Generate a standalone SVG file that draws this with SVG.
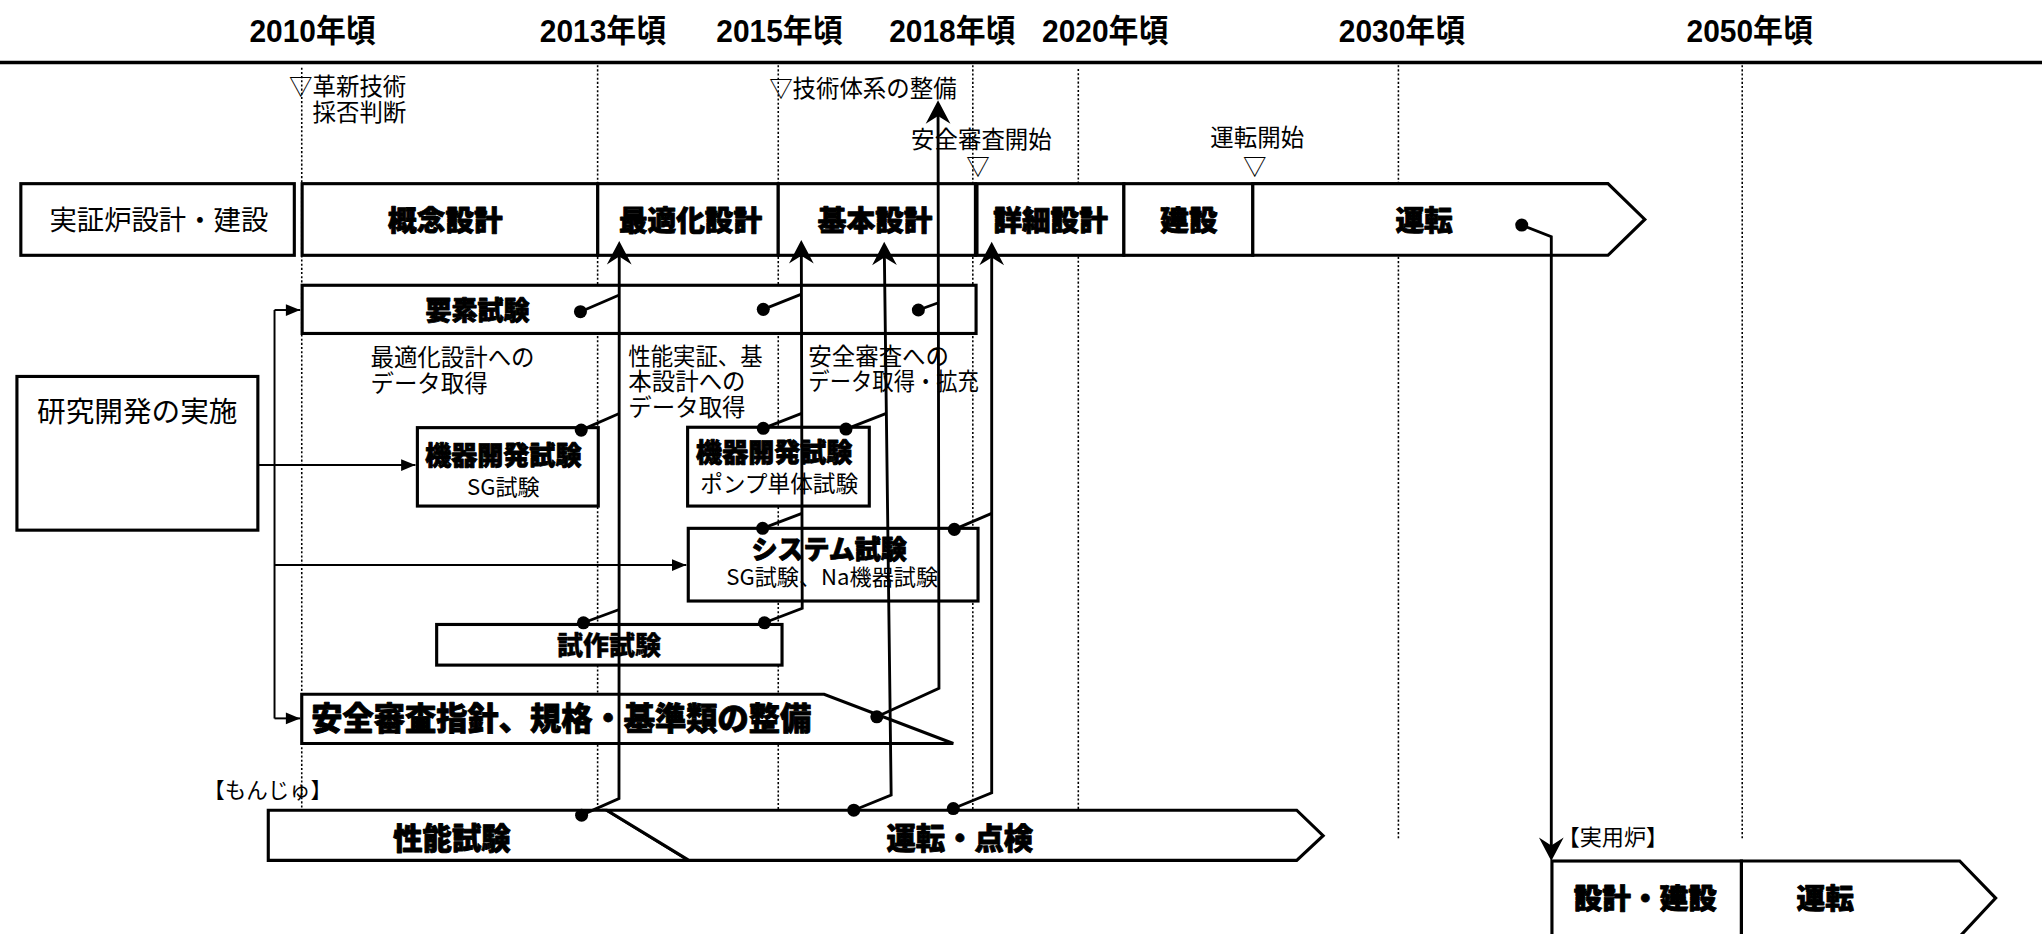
<svg xmlns="http://www.w3.org/2000/svg" width="2042" height="934" viewBox="0 0 2042 934">
<style>
.yr{font-family:"Liberation Sans","Noto Sans CJK JP",sans-serif;font-weight:bold;font-size:24px;text-anchor:middle}
.lbl{font-family:"Noto Sans CJK JP",sans-serif;font-weight:900;text-anchor:middle;stroke:#000;stroke-width:0.7px;stroke-linejoin:round}
.sub{font-weight:400;stroke:none}
.txt{font-family:"Noto Sans CJK JP",sans-serif;font-weight:400;font-size:18px}
.box{fill:#fff;stroke:#000;stroke-width:2.4}
.dot{stroke:#000;stroke-width:1.2;stroke-dasharray:1.6 1.6;fill:none}
.con{fill:none;stroke:#000;stroke-width:2.2;stroke-linejoin:miter}
.rd{fill:none;stroke:#000;stroke-width:1.5}
</style>
<defs>
<marker id="arr" markerUnits="userSpaceOnUse" markerWidth="20" markerHeight="20" refX="14" refY="10" orient="auto" overflow="visible">
<path d="M18,10 L0,0.5 L6,10 L0,19.5 Z" fill="#000"/>
</marker>
<marker id="arrs" markerUnits="userSpaceOnUse" markerWidth="12" markerHeight="10" refX="11" refY="4.5" orient="auto" overflow="visible">
<path d="M0,0 L11,4.5 L0,9 Z" fill="#000"/>
</marker>
</defs>
<rect x="0" y="0" width="2042" height="934" fill="#fff"/>
<g transform="scale(1.3023,1.3026)">
<g id="timeline">
<text class="yr" x="240" y="32" textLength="97" lengthAdjust="spacingAndGlyphs">2010年頃</text>
<text class="yr" x="463" y="32" textLength="97" lengthAdjust="spacingAndGlyphs">2013年頃</text>
<text class="yr" x="598.5" y="32" textLength="97" lengthAdjust="spacingAndGlyphs">2015年頃</text>
<text class="yr" x="731.3" y="32" textLength="97" lengthAdjust="spacingAndGlyphs">2018年頃</text>
<text class="yr" x="848.7" y="32" textLength="97" lengthAdjust="spacingAndGlyphs">2020年頃</text>
<text class="yr" x="1076.5" y="32" textLength="97" lengthAdjust="spacingAndGlyphs">2030年頃</text>
<text class="yr" x="1343.6" y="32" textLength="97" lengthAdjust="spacingAndGlyphs">2050年頃</text>
<line x1="0" y1="48" x2="1568" y2="48" stroke="#000" stroke-width="2.6"/>
<line class="dot" x1="231.7" y1="52" x2="231.7" y2="621"/>
<line class="dot" x1="458.9" y1="50" x2="458.9" y2="621"/>
<line class="dot" x1="597.6" y1="50" x2="597.6" y2="621"/>
<line class="dot" x1="747" y1="50" x2="747" y2="621"/>
<line class="dot" x1="828" y1="53" x2="828" y2="621"/>
<line class="dot" x1="1073.8" y1="50" x2="1073.8" y2="644"/>
<line class="dot" x1="1337.8" y1="50" x2="1337.8" y2="645"/>
</g>
<g id="milestones">
<text class="txt" x="222" y="73">▽革新技術<tspan x="240" y="93">採否判断</tspan></text>
<text class="txt" x="590.6" y="74.5">▽技術体系の整備</text>
<text class="txt" x="699.6" y="114">安全審査開始<tspan x="742" y="134.5">▽</tspan></text>
<text class="txt" x="929.4" y="112">運転開始<tspan x="954.5" y="134.5">▽</tspan></text>
</g>
<g id="demo-label"><rect class="box" x="16" y="141" width="210" height="55" stroke-width="2.2"/><text class="txt" x="122" y="176.5" text-anchor="middle" style="font-size:21px">実証炉設計・建設</text></g>
<g id="rd-label"><rect class="box" x="13" y="289" width="185" height="118" stroke-width="2.2"/><text class="txt" x="105.4" y="324" text-anchor="middle" style="font-size:22px">研究開発の実施</text></g>
<g id="phase-concept"><rect class="box" x="232" y="141" width="227" height="55" stroke-width="2.7"/><text class="lbl" x="342" y="177" font-size="22">概念設計</text></g>
<g id="phase-optimize"><rect class="box" x="459" y="141" width="138.6" height="55" stroke-width="2.7"/><text class="lbl" x="530.2" y="177" font-size="22">最適化設計</text></g>
<g id="phase-basic"><rect class="box" x="597.6" y="141" width="151.6" height="55" stroke-width="2.7"/><text class="lbl" x="672" y="177" font-size="22">基本設計</text></g>
<g id="phase-detail"><rect class="box" x="749.2" y="141" width="113.8" height="55" stroke-width="2.7"/><line x1="749.6" y1="141" x2="749.6" y2="196" stroke="#000" stroke-width="3.6"/><text class="lbl" x="806.7" y="177" font-size="22">詳細設計</text></g>
<g id="phase-construct"><rect class="box" x="863" y="141" width="99" height="55" stroke-width="2.7"/><text class="lbl" x="913" y="177" font-size="22">建設</text></g>
<g id="phase-operate"><polygon class="box" points="962,141 1234.7,141 1263,168.5 1234.7,196 962,196" stroke-width="2.7"/><text class="lbl" x="1093.5" y="177" font-size="22">運転</text></g>
<g id="element-test"><rect class="box" x="232" y="219" width="517.5" height="37" stroke-width="2.8"/><text class="lbl" x="366.7" y="246" font-size="20">要素試験</text></g>
<g id="note-opt"><text class="txt" x="284.5" y="281">最適化設計への<tspan x="284.5" y="301">データ取得</tspan></text></g>
<g id="note-perf"><text class="txt" x="482.5" y="280"><tspan x="482.5" y="280" textLength="103" lengthAdjust="spacingAndGlyphs">性能実証、基</tspan><tspan x="482.5" y="299.5">本設計への</tspan><tspan x="482.5" y="319">データ取得</tspan></text></g>
<g id="note-safety"><text class="txt" x="620.7" y="280">安全審査への<tspan x="620.7" y="299.5" textLength="131" lengthAdjust="spacingAndGlyphs">データ取得・拡充</tspan></text></g>
<g id="equip-sg"><rect class="box" x="320.5" y="328.3" width="138.9" height="60.2" stroke-width="2.8"/><text class="lbl" x="386.5" y="357" font-size="20">機器開発試験<tspan class="sub" x="386.5" y="380" font-size="17">SG試験</tspan></text></g>
<g id="equip-pump"><rect class="box" x="528" y="328" width="139.5" height="60.5" stroke-width="2.8"/><text class="lbl" x="594.5" y="354.5" font-size="20">機器開発試験<tspan class="sub" x="598.3" y="378" font-size="17.4">ポンプ単体試験</tspan></text></g>
<g id="system-test"><rect class="box" x="528.5" y="405.6" width="222.5" height="55.8" stroke-width="2.8"/><text class="lbl" x="636.7" y="429.5" font-size="20">システム試験<tspan class="sub" x="639" y="449" font-size="17">SG試験、Na機器試験</tspan></text></g>
<g id="prototype-test"><rect class="box" x="335.3" y="479.4" width="265.2" height="31.2" stroke-width="2.8"/><text class="lbl" x="467.6" y="503" font-size="20" font-weight="700" style="stroke-width:0.3px">試作試験</text></g>
<g id="safety-standards"><polygon class="box" points="231.7,533 632.8,533 732,570.8 231.7,570.8" stroke-width="2.8"/><text class="lbl" x="431" y="560.5" font-size="24">安全審査指針、規格・基準類の整備</text></g>
<g id="monju-label"><text class="txt" x="255" y="613" text-anchor="end" style="font-size:16.5px">【もんじゅ】</text></g>
<g id="monju-perf"><polygon class="box" points="206,622 466,622 529,660.5 206,660.5" stroke-width="2.8"/><text class="lbl" x="347" y="652" font-size="22.5">性能試験</text></g>
<g id="monju-op"><polygon class="box" points="466,622 995.7,622 1016,641.5 995.7,660.5 529,660.5" stroke-width="2.8"/><text class="lbl" x="737" y="652" font-size="22.5">運転・点検</text></g>
<g id="commercial-label"><text class="txt" x="1196" y="649" style="font-size:17px">【実用炉】</text></g>
<g id="commercial-build"><rect class="box" x="1191.7" y="661" width="145.5" height="58" stroke-width="2.8"/><text class="lbl" x="1263.4" y="698" font-size="22">設計・建設</text></g>
<g id="commercial-op"><polygon class="box" points="1337.2,661 1504.8,661 1532.4,689.5 1504.8,719 1337.2,719" stroke-width="2.8"/><text class="lbl" x="1401.5" y="698" font-size="22">運転</text></g>
<g id="connectors">
<path class="rd" d="M198,357 H319" marker-end="url(#arrs)"/>
<path class="rd" d="M210.8,238 V551.5"/>
<path class="rd" d="M210.8,238 H230.5" marker-end="url(#arrs)"/>
<path class="rd" d="M210.8,433.8 H527" marker-end="url(#arrs)"/>
<path class="rd" d="M210.8,551.5 H230.5" marker-end="url(#arrs)"/>
<path class="con" d="M446.6,625.8 L475.3,613 L475.5,189" marker-end="url(#arr)"/>
<path class="con" d="M445.7,239.3 L475.5,226.5"/>
<path class="con" d="M446.3,330.2 L475.5,317.4"/>
<path class="con" d="M448,478.1 L475.5,467.9"/>
<path class="con" d="M587,478.1 L616,467 L615.3,188.3" marker-end="url(#arr)"/>
<path class="con" d="M586.1,237.5 L615.5,225.8"/>
<path class="con" d="M586.1,328.8 L615.6,317.3"/>
<path class="con" d="M585.6,405.6 L615.8,394.1"/>
<path class="con" d="M673.3,550.3 L721,528.5 L720.3,81" marker-end="url(#arr)"/>
<path class="con" d="M705.2,238 L720.6,232.4"/>
<path class="con" d="M655.6,622 L684.3,610.4 L679,189.6" marker-end="url(#arr)"/>
<path class="con" d="M649.6,329.4 L680.6,317.3"/>
<path class="con" d="M732,620.7 L761.5,608.7 L761.5,189.6" marker-end="url(#arr)"/>
<path class="con" d="M732.8,406.4 L761.5,394.1"/>
<path class="con" d="M1168.5,172.8 L1191.2,181.7 L1191.2,657" marker-end="url(#arr)"/>
<g fill="#000">
<circle cx="446.6" cy="625.8" r="5"/><circle cx="445.7" cy="239.3" r="5"/><circle cx="446.3" cy="330.2" r="5"/><circle cx="448" cy="478.1" r="5"/>
<circle cx="587" cy="478.1" r="5"/><circle cx="586.1" cy="237.5" r="5"/><circle cx="586.1" cy="328.8" r="5"/><circle cx="585.6" cy="405.6" r="5"/>
<circle cx="673.3" cy="550.3" r="5"/><circle cx="705.2" cy="238" r="5"/>
<circle cx="655.6" cy="622" r="5"/><circle cx="649.6" cy="329.4" r="5"/>
<circle cx="732" cy="620.7" r="5"/><circle cx="732.8" cy="406.4" r="5"/>
<circle cx="1168.5" cy="172.8" r="5"/>
</g>
</g>
</g>
</svg>
